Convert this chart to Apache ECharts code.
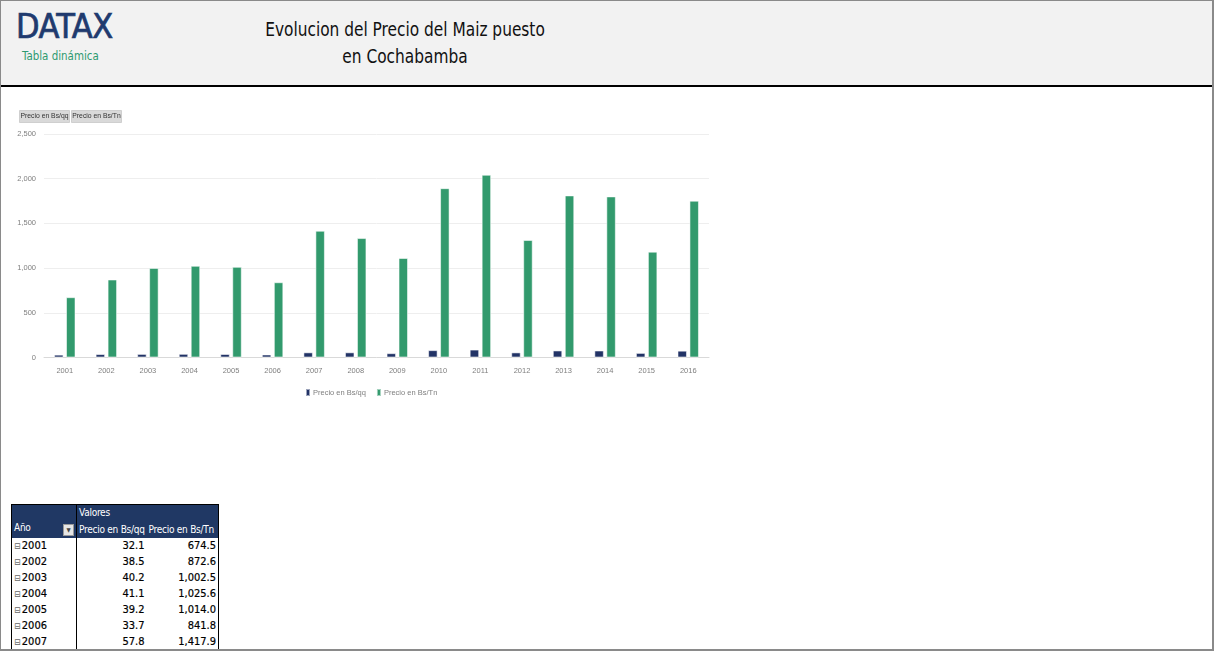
<!DOCTYPE html>
<html>
<head>
<meta charset="utf-8">
<script src="https://cdn.jsdelivr.net/npm/echarts@6/dist/echarts.min.js"></script>
<style>
  html, body { margin: 0; padding: 0; background: #fff; }
  .page { position: relative; width: 1214px; height: 651px; overflow: hidden; background: #fff; }
  .header { position: absolute; left: 0; top: 0; width: 1214px; height: 85px; background: #f2f2f2; border-bottom: 2px solid #000; }
  .narrow { font-family: "Liberation Sans Narrow", "DejaVu Sans Condensed", "Liberation Sans", sans-serif; }
  .logo { position: absolute; left: 16px; top: 9px; font-size: 34px; line-height: 34px; color: #203a6e; letter-spacing: -0.5px; -webkit-text-stroke: 0.7px #203a6e; }
  .sub { position: absolute; left: 22px; top: 49px; font-size: 13px; line-height: 14px; color: #2e9a70; transform: scaleX(0.88); transform-origin: left center; }
  .title { position: absolute; left: 205px; top: 16px; width: 400px; text-align: center; font-size: 19px; line-height: 27px; color: #111; transform: scaleX(0.9); transform-origin: center; }
  #chart { position: absolute; left: 0; top: 88px; width: 720px; height: 320px; }
  #pivot { position: absolute; left: 11px; top: 504px; width: 207px; border-collapse: collapse; table-layout: fixed; font-size: 11px; border: 1px solid #000; }
  #pivot td { padding: 0 2px; white-space: nowrap; overflow: hidden; }
  #pivot thead td { background: #203864; color: #fff; font-size: 10px; letter-spacing: -0.25px; }
  #pivot .sep { border-right: 1px solid #000; }
  #pivot tbody td { height: 15px; line-height: 15px; color: #000; -webkit-text-stroke: 0.2px #000; }
  #pivot .num { text-align: right; }
  .tog { color: #666; font-size: 9px; margin-right: 1px; -webkit-text-stroke: 0; }
  .drop { float: right; width: 9px; height: 10px; margin-top: 2px; background: #e6e6e6; border: 1px solid #999; color: #444; font-size: 6px; line-height: 10px; text-align: center; letter-spacing: 0; }
  .frame { position: absolute; left: 0; top: 0; width: 1214px; height: 651px; box-sizing: border-box; border: 1px solid #8a8a8a; border-right-width: 2px; border-bottom-width: 2px; pointer-events: none; }
</style>
</head>
<body>
<div class="page">
  <div class="header">
    <div class="logo narrow">DATAX</div>
    <div class="sub narrow">Tabla dinámica</div>
    <div class="title narrow">Evolucion del Precio del Maiz puesto<br>en Cochabamba</div>
  </div>
  <div id="chart"></div>
  <table id="pivot" class="narrow"></table>
  <div class="frame"></div>
</div>
<script>
// datos del pivot
const years = ['2001', '2002', '2003', '2004', '2005', '2006', '2007', '2008', '2009', '2010', '2011', '2012', '2013', '2014', '2015', '2016']
const precioQQ = [32.1, 38.5, 40.2, 41.1, 39.2, 33.7, 57.8, 58.0, 48.4, 82.4, 88.9, 57.1, 78.8, 78.3, 51.5, 76.3]
const precioTN = [674.5, 872.6, 1002.5, 1025.6, 1014.0, 841.8, 1417.9, 1336.0, 1113.0, 1894.0, 2044.0, 1314.0, 1813.0, 1802.0, 1184.0, 1754.0]
const seriesNames = ['Precio en Bs/qq', 'Precio en Bs/Tn']
const colors = ['#223366', '#329a6d']

const fmt1 = (v) => v.toLocaleString('en-US', { minimumFractionDigits: 1, maximumFractionDigits: 1 })

// tabla dinamica
let html = '<colgroup><col style="width:65px"><col style="width:70px"><col style="width:72px"></colgroup>'
html += '<thead><tr style="height:16px"><td class="sep"></td><td colspan="2">Valores</td></tr>'
html += '<tr style="height:17px"><td class="sep">Año<span class="drop">&#9660;</span></td><td>' + seriesNames[0] + '</td><td>' + seriesNames[1] + '</td></tr></thead><tbody>'
years.forEach((y, i) => {
  html += '<tr><td class="sep"><span class="tog">&#8863;</span>' + y + '</td><td class="num">' + fmt1(precioQQ[i]) + '</td><td class="num">' + fmt1(precioTN[i]) + '</td></tr>'
})
html += '</tbody>'
document.getElementById('pivot').innerHTML = html

const myChart = echarts.init(document.getElementById('chart'))
const labelFont = { color: '#7f7f7f', fontSize: 7.5, fontFamily: 'Liberation Sans, Arial, sans-serif' }

myChart.setOption({
  animation: false,
  color: colors,
  grid: { left: 44, top: 46, width: 665, height: 223.5, containLabel: false },
  legend: {
    left: 300,
    top: 295,
    itemWidth: 4,
    itemHeight: 7,
    itemGap: 10,
    icon: 'rect',
    textStyle: Object.assign({ padding: [0, 0, 0, -2] }, labelFont),
    data: seriesNames
  },
  // botones de campo del grafico dinamico
  graphic: seriesNames.map((n, i) => ({
    type: 'group',
    left: 19 + i * 52,
    top: 22,
    children: [
      { type: 'rect', shape: { x: 0, y: 0, width: 50, height: 12 }, style: { fill: '#d9d9d9', stroke: '#cfcfcf' } },
      { type: 'text', style: { x: 25, y: 6, text: n, align: 'center', verticalAlign: 'middle', fontSize: 6.8, fill: '#333', fontFamily: 'Liberation Sans, Arial, sans-serif' } }
    ]
  })),
  xAxis: {
    type: 'category',
    data: years,
    axisTick: { show: false },
    axisLine: { lineStyle: { color: '#d9d9d9' } },
    axisLabel: Object.assign({ margin: 9 }, labelFont)
  },
  yAxis: {
    type: 'value',
    min: 0,
    max: 2500,
    interval: 500,
    axisLine: { show: false },
    axisTick: { show: false },
    splitLine: { lineStyle: { color: '#eeeeee' } },
    axisLabel: Object.assign({ margin: 8, formatter: (v) => v.toLocaleString('en-US') }, labelFont)
  },
  series: [{
    name: seriesNames[0],
    type: 'bar',
    data: precioQQ,
    barWidth: 9.5,
    barGap: '26%',
    itemStyle: { borderColor: 'rgba(255,255,255,0.55)', borderWidth: 1 }
  }, {
    name: seriesNames[1],
    type: 'bar',
    data: precioTN,
    barWidth: 9.5,
    itemStyle: { borderColor: 'rgba(255,255,255,0.55)', borderWidth: 1 }
  }]
})
</script>
</body>
</html>
